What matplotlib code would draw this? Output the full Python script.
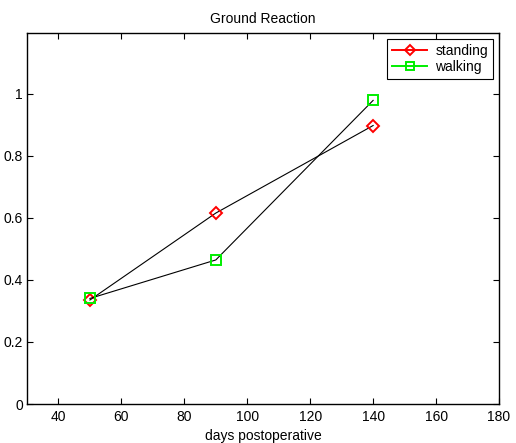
import matplotlib
matplotlib.use("Agg")
import matplotlib.pyplot as plt
from matplotlib.lines import Line2D

days = [50, 90, 140]
standing = [0.335, 0.615, 0.897]
walking = [0.34, 0.464, 0.978]
xticks = [40, 60, 80, 100, 120, 140, 160, 180]
yticks = [0, 0.2, 0.4, 0.6, 0.8, 1]

plt.rcParams['font.family'] = ['Liberation Sans', 'DejaVu Sans']
plt.rcParams['font.size'] = 10

fig = plt.figure(figsize=(5.16, 4.43), dpi=100)
ax = fig.add_axes([27/516, 39/443, 472/516, 371/443])

ax.plot(days, standing, color='black', lw=0.8, marker='D', ms=6,
        mec='red', mfc='none', mew=1.4)
ax.plot(days, walking, color='black', lw=0.8, marker='s', ms=7,
        mec='#00ee00', mfc='none', mew=1.4)

ax.set_xlim(30, 180)
ax.set_ylim(0, 1.195)
ax.set_xticks(xticks)
ax.set_yticks(yticks)
ax.set_yticklabels(['0', '0.2', '0.4', '0.6', '0.8', '1'])
ax.tick_params(axis='x', direction='in', top=True, length=4, width=0.8, pad=4)
ax.tick_params(axis='y', direction='in', right=True, length=4, width=0.8, pad=3)
for s in ax.spines.values():
    s.set_linewidth(1.0)

ax.set_title('Ground Reaction', fontsize=10, pad=7)
ax.set_xlabel('days postoperative', labelpad=4)

handles = [Line2D([], [], color='red', lw=1.4, marker='D', ms=5, mec='red', mfc='none', mew=1.4),
           Line2D([], [], color='#00ee00', lw=1.4, marker='s', ms=6, mec='#00ee00', mfc='none', mew=1.4)]
leg = ax.legend(handles, ['standing', 'walking'], loc='upper right', fancybox=False,
                framealpha=1, edgecolor='black', borderaxespad=0.45, handlelength=2.5,
                borderpad=0.35, labelspacing=0.15, handletextpad=0.6)
leg.get_frame().set_linewidth(0.8)

fig.savefig('out.png', dpi=100)
